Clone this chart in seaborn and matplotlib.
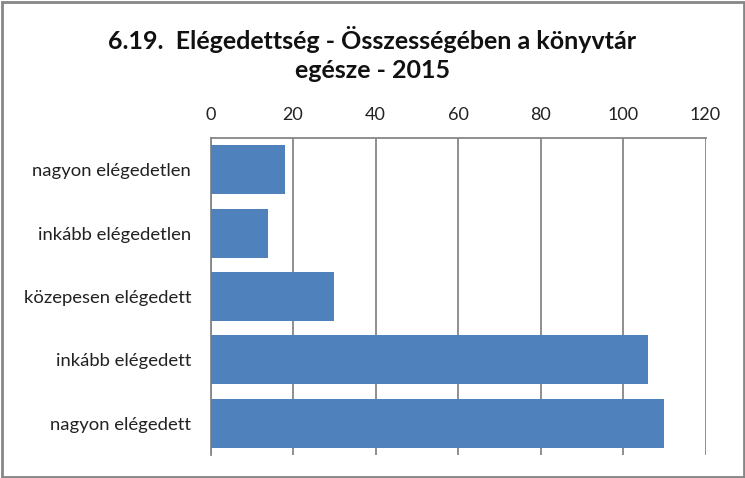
import matplotlib
matplotlib.use("Agg")
import matplotlib.pyplot as plt
import seaborn as sns
import pandas as pd
from matplotlib.patches import Rectangle

categories = ["nagyon elégedetlen", "inkább elégedetlen", "közepesen elégedett",
              "inkább elégedett", "nagyon elégedett"]
values = [18, 14, 30, 106, 110]
x_ticks = [0, 20, 40, 60, 80, 100, 120]
title = "6.19.  Elégedettség - Összességében a könyvtár\negésze - 2015"

sns.set_theme(style="white")
plt.rcParams['font.family'] = ['Lato', 'DejaVu Sans']

df = pd.DataFrame({"cat": categories, "val": values})

fig = plt.figure(figsize=(7.45, 4.78), dpi=100)
ax = fig.add_axes([210.5/745, 1-455/478, (705.5-210.5)/745, (455-138)/478])

sns.barplot(data=df, x="val", y="cat", orient="h", color="#4F81BD",
            saturation=1, width=0.775, ax=ax, zorder=3, linewidth=0)

grid_c = "#868686"
ax.set_xlim(0, 120)
ax.set_xticks(x_ticks)
ax.set_xticklabels([str(t) for t in x_ticks])
ax.xaxis.tick_top()
ax.set_xlabel("")
ax.set_ylabel("")
ax.grid(axis="x", color=grid_c, linewidth=1.3, zorder=0)
ax.set_axisbelow(True)
for s in ["right", "bottom"]:
    ax.spines[s].set_visible(False)
for s in ["top", "left"]:
    ax.spines[s].set_color(grid_c)
    ax.spines[s].set_linewidth(1.3)
ax.tick_params(axis="x", length=0, pad=11, labelsize=13, colors="#222222")
ax.tick_params(axis="y", length=0, pad=14, labelsize=13.3, colors="#222222")

fig.text(0.5, 1-54/478, title, ha="center", va="center", fontsize=18,
         fontweight="bold", color="#111111", linespacing=1.3)

fig.patches.append(Rectangle((1.5/745, 1.5/478), 742/745, 475/478, transform=fig.transFigure,
                             fill=False, edgecolor="#868686", linewidth=2))

fig.savefig("out.png", dpi=100)
